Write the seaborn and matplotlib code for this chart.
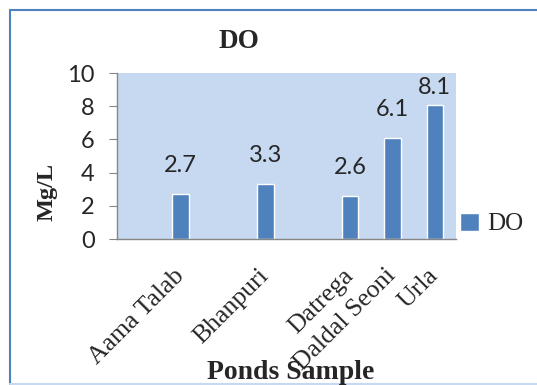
import numpy as np
import pandas as pd
import seaborn as sns
import matplotlib.pyplot as plt
from matplotlib.lines import Line2D
from matplotlib.transforms import ScaledTranslation

# DO values per pond (blank slots are empty categories on the axis)
ponds = ['', 'Aama Talab', ' ', 'Bhanpuri', '  ', 'Datrega', 'Daldal Seoni', 'Urla']
do_values = [np.nan, 2.7, np.nan, 3.3, np.nan, 2.6, 6.1, 8.1]
y_ticks = [0, 2, 4, 6, 8, 10]

df = pd.DataFrame({'pond': ponds, 'DO': do_values})

sns.set_style('white')
fig = plt.figure(figsize=(5.37, 3.85), dpi=100)
W, H = 537, 385
ax = fig.add_axes([117 / W, 1 - 239 / H, (456 - 117) / W, (239 - 73) / H])

sans = ['Lato', 'DejaVu Sans']
serif = ['Liberation Serif', 'DejaVu Serif']

sns.barplot(data=df, x='pond', y='DO', order=ponds, color='#4f81bd',
            width=0.39, label='DO', ax=ax, saturation=1)

ax.set_facecolor('#c6d9f1')
ax.set_xlim(-0.5, len(ponds) - 0.5)
ax.set_ylim(0, 10)
ax.set_yticks(y_ticks)
ax.set_yticklabels([str(t) for t in y_ticks], family=sans, fontsize=17)

ax.set_xticks(range(len(ponds)))
ax.set_xticklabels(ponds, rotation=45, ha='right', va='center',
                   rotation_mode='anchor', family=serif, fontsize=18.5)
shift = ScaledTranslation(-4 / 100, 0, fig.dpi_scale_trans)
for lab in ax.get_xticklabels():
    lab.set_transform(lab.get_transform() + shift)
ax.set_xticks(np.arange(-0.5, len(ponds)), minor=True)
ax.tick_params(axis='x', which='major', length=0, pad=24)
ax.tick_params(axis='x', which='minor', length=5.5, color='#868686', direction='out')
ax.tick_params(axis='y', length=6, color='#868686', direction='out', left=True, pad=10)

for side in ['top', 'right']:
    ax.spines[side].set_visible(False)
for side in ['left', 'bottom']:
    ax.spines[side].set_color('#868686')
    ax.spines[side].set_linewidth(1)

# data labels above the bars, kept inside the plot area
for i, v in enumerate(do_values):
    if not np.isnan(v):
        ax.text(i, min(v + 1.7, 9.15), f'{v:.1f}', ha='center', va='center',
                family=sans, fontsize=17)

ax.set_xlabel('')
ax.set_ylabel('')
fig.text(239 / W, 1 - 41 / H, 'DO', ha='center', va='center',
         family=serif, fontweight='bold', fontsize=19.5)
fig.text(47 / W, 1 - 192 / H, 'Mg/L', ha='center', va='center', rotation=90,
         family=serif, fontweight='bold', fontsize=17.5)
fig.text(291 / W, 1 - 379 / H, 'Ponds Sample', ha='center', va='baseline',
         family=serif, fontweight='bold', fontsize=20)

ax.legend(loc='center left', bbox_to_anchor=(0.975, 0.09), frameon=False,
          prop={'family': serif, 'size': 18}, handlelength=0.75,
          handleheight=0.75, handletextpad=0.35, borderaxespad=0.1)

# outer chart border (right edge runs off the picture)
fig.add_artist(Line2D([10 / W, 10 / W], [1 - 384 / H, 1 - 10 / H],
                      transform=fig.transFigure, color='#4f81bd', lw=1.5))
fig.add_artist(Line2D([10 / W, 1], [1 - 10 / H, 1 - 10 / H],
                      transform=fig.transFigure, color='#4f81bd', lw=1.5))
fig.add_artist(Line2D([10 / W, 1], [1 - 384 / H, 1 - 384 / H],
                      transform=fig.transFigure, color='#c6d9f1', lw=1.5))

fig.savefig('out.png', dpi=100)
